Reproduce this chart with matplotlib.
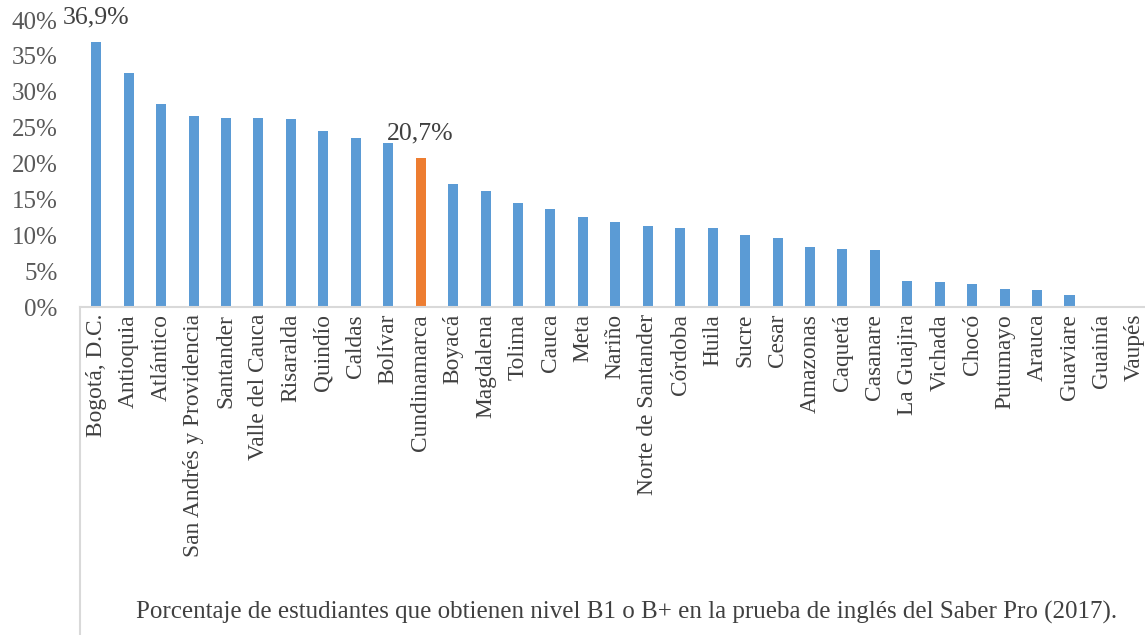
import matplotlib
matplotlib.use("Agg")
import matplotlib.pyplot as plt
import numpy as np

plt.rcParams['font.family'] = ['Liberation Serif', 'DejaVu Serif']

# Departments and share of students at B1 or higher (%)
departamentos = [
    "Bogotá, D.C.", "Antioquia", "Atlántico", "San Andrés y Providencia",
    "Santander", "Valle del Cauca", "Risaralda", "Quindío", "Caldas",
    "Bolívar", "Cundinamarca", "Boyacá", "Magdalena", "Tolima", "Cauca",
    "Meta", "Nariño", "Norte de Santander", "Córdoba", "Huila", "Sucre",
    "Cesar", "Amazonas", "Caquetá", "Casanare", "La Guajira", "Vichada",
    "Chocó", "Putumayo", "Arauca", "Guaviare", "Guainía", "Vaupés",
]
porcentajes = [
    36.9, 32.6, 28.3, 26.6, 26.3, 26.3, 26.2, 24.6, 23.5, 22.8,
    20.7, 17.1, 16.1, 14.5, 13.6, 12.6, 11.9, 11.3, 11.0, 11.0,
    10.1, 9.6, 8.4, 8.1, 8.0, 3.6, 3.5, 3.2, 2.5, 2.4, 1.7, 0.0, 0.0,
]
destacado = "Cundinamarca"
etiquetas = {"Bogotá, D.C.": "36,9%", "Cundinamarca": "20,7%"}
y_ticks = [0, 5, 10, 15, 20, 25, 30, 35, 40]
titulo = ("Porcentaje de estudiantes que obtienen nivel B1 o B+ en la prueba "
          "de inglés del Saber Pro (2017).")

azul = "#5B9BD5"
naranja = "#ED7D31"
gris_texto = "#404040"
gris_ejes = "#595959"

fig = plt.figure(figsize=(11.45, 6.35), dpi=100)
ax = fig.add_axes([0.0699, 0.5165, 0.935, 0.452])

x = np.arange(len(departamentos))
colores = [naranja if d == destacado else azul for d in departamentos]
ax.bar(x, porcentajes, width=0.31, color=colores)

for i, d in enumerate(departamentos):
    if d in etiquetas:
        ax.text(i, porcentajes[i] + 1.9, etiquetas[d], ha="center",
                va="bottom", fontsize=18.5, color=gris_texto)

ax.set_xlim(-0.5, len(departamentos) - 0.5)
ax.set_ylim(0, 40)
ax.set_yticks(y_ticks)
ax.set_yticklabels([f"{t}%" for t in y_ticks], fontsize=18, color=gris_ejes)
ax.set_xticks(x)
ax.set_xticklabels(departamentos, rotation=90, fontsize=16.8, color=gris_texto)
ax.tick_params(axis="y", length=0, pad=16)
ax.tick_params(axis="x", length=0, pad=5)

for s in ["top", "right", "left"]:
    ax.spines[s].set_visible(False)
ax.spines["bottom"].set_color("#D9D9D9")
ax.spines["bottom"].set_linewidth(1.5)

# vertical border line going down from the axis origin
ax.plot([0, 0], [0, -1.15], transform=ax.transAxes, color="#D9D9D9",
        lw=1.5, clip_on=False)

fig.text(0.547, 0.036, titulo, ha="center", va="center", fontsize=18,
         color=gris_texto)

fig.savefig("out.png", dpi=100)
